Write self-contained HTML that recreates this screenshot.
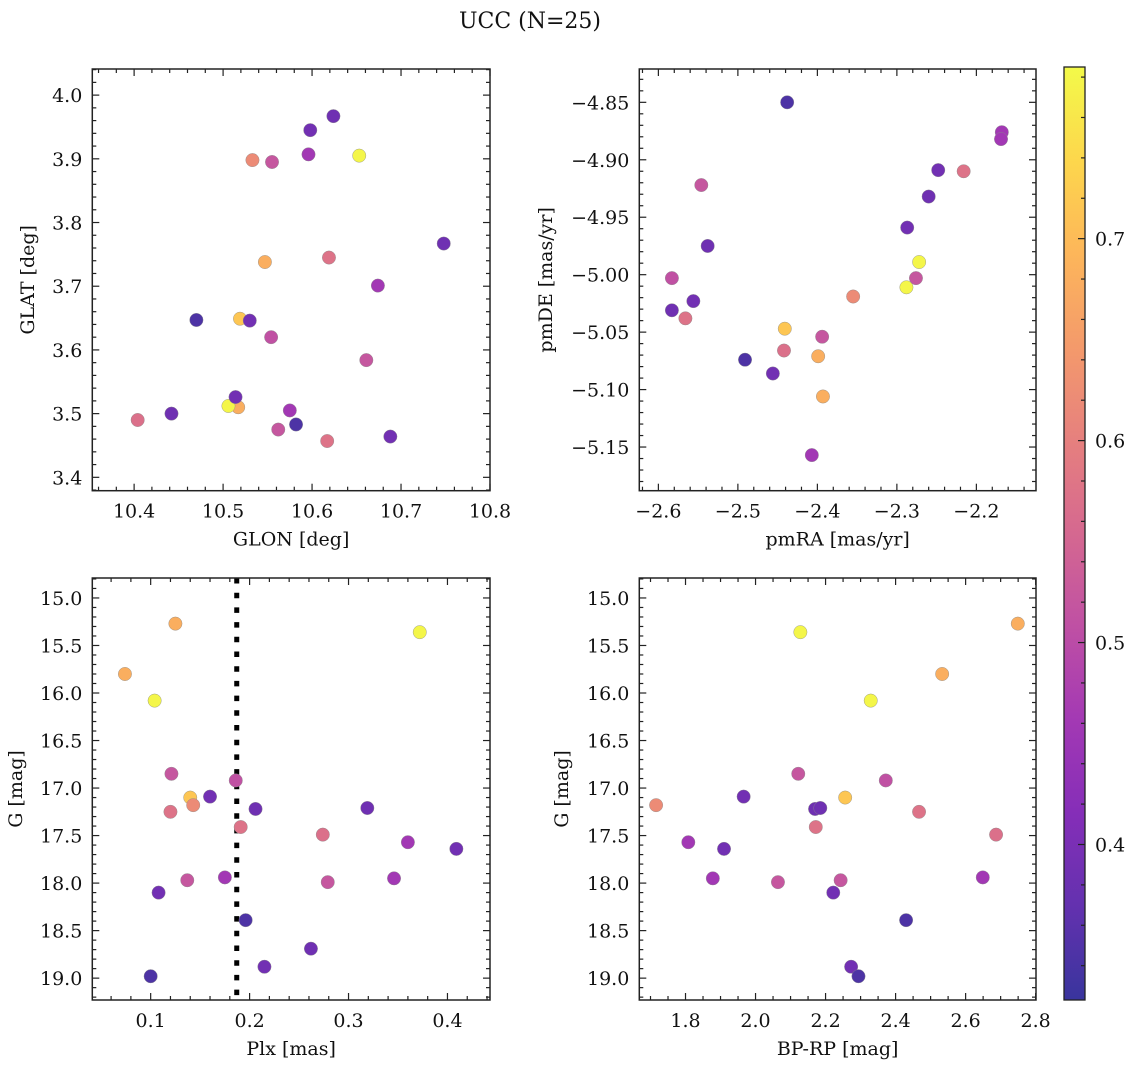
<!DOCTYPE html>
<html><head><meta charset="utf-8">
<style>
html,body{margin:0;padding:0;background:#fff;}
svg{display:block;font-family:"DejaVu Serif","Liberation Serif",serif;}
</style></head>
<body>
<svg id="fig" width="1136" height="1067" viewBox="0 0 1136 1067" xmlns="http://www.w3.org/2000/svg">
<text x="530" y="28" text-anchor="middle" font-size="22" fill="#111">UCC (N=25)</text>
</svg>
<script>
// ---- data (25 stars) ----
const glon = [10.547,10.653,10.517,10.506,10.555,10.554,10.519,10.598,10.533,10.619,10.624,10.748,10.617,10.404,10.596,10.530,10.562,10.674,10.661,10.575,10.514,10.470,10.442,10.688,10.582];
const glat = [3.738,3.905,3.510,3.512,3.895,3.620,3.649,3.945,3.898,3.745,3.967,3.767,3.457,3.490,3.907,3.646,3.475,3.701,3.584,3.505,3.526,3.647,3.500,3.464,3.483];
const pmra = [-2.399,-2.272,-2.393,-2.288,-2.546,-2.583,-2.441,-2.248,-2.355,-2.216,-2.260,-2.538,-2.566,-2.442,-2.168,-2.287,-2.394,-2.169,-2.276,-2.407,-2.556,-2.438,-2.583,-2.456,-2.491];
const pmde = [-5.071,-4.989,-5.106,-5.011,-4.922,-5.003,-5.047,-4.909,-5.019,-4.910,-4.932,-4.975,-5.038,-5.066,-4.876,-4.959,-5.054,-4.882,-5.003,-5.157,-5.023,-4.850,-5.031,-5.086,-5.074];
const plx = [0.125,0.372,0.074,0.104,0.121,0.186,0.140,0.160,0.143,0.120,0.206,0.319,0.191,0.274,0.360,0.409,0.137,0.175,0.279,0.346,0.108,0.196,0.262,0.215,0.100];
const gmag = [15.27,15.36,15.80,16.08,16.85,16.92,17.10,17.09,17.18,17.25,17.22,17.21,17.41,17.49,17.57,17.64,17.97,17.94,17.99,17.95,18.10,18.39,18.69,18.88,18.98];
const bprp = [2.749,2.128,2.533,2.329,2.122,2.372,2.256,1.966,1.716,2.467,2.170,2.185,2.172,2.687,1.808,1.910,2.243,2.649,2.064,1.878,2.222,2.430,null,2.273,2.294];
const cval = [0.68,0.78,0.68,0.78,0.52,0.51,0.715,0.39,0.62,0.575,0.385,0.385,0.575,0.57,0.46,0.39,0.52,0.46,0.52,0.46,0.39,0.345,0.385,0.39,0.345];
const plxLine = [0.187];
const cbarTicks = [0.4,0.5,0.6,0.7];
const cMin = 0.323, cMax = 0.785;

const NS="http://www.w3.org/2000/svg";
const svg=document.getElementById('fig');
function mk(tag,attrs,parent){const e=document.createElementNS(NS,tag);for(const k in attrs)e.setAttribute(k,attrs[k]);(parent||svg).appendChild(e);return e;}

const plasma=["#0d0887","#41049d","#6a00a8","#8f0da4","#b12a90","#cc4778","#e16462","#f2844b","#fca636","#fcce25","#f0f921"];
function hex(h){return [parseInt(h.substr(1,2),16),parseInt(h.substr(3,2),16),parseInt(h.substr(5,2),16)];}
function cmap(t){t=Math.max(0,Math.min(1,t));const f=t*10,i=Math.min(9,Math.floor(f)),r=f-i;const a=hex(plasma[i]),b=hex(plasma[i+1]);
 const c=a.map((v,k)=>v+(b[k]-v)*r);const al=0.82;return 'rgb('+c.map(v=>Math.round(v*al+255*(1-al))).join(',')+')';}
function colorOf(v){return cmap((v-cMin)/(cMax-cMin));}

function fmt(v,d){let s=v.toFixed(d);return s.replace('-','\u2212');}

function panel(cfg){
 const g=mk('g',{});
 
 
 const {x0,x1,y0,y1}=cfg;
 const sx=v=>x0+(v-cfg.xmin)/(cfg.xmax-cfg.xmin)*(x1-x0);
 const sy=cfg.yinv? v=>y0+(v-cfg.ymin)/(cfg.ymax-cfg.ymin)*(y1-y0) : v=>y1-(v-cfg.ymin)/(cfg.ymax-cfg.ymin)*(y1-y0);
 const eps=1e-9;
 const lo=Math.min(cfg.xmin,cfg.xmax),hi=Math.max(cfg.xmin,cfg.xmax);
 for(let v=Math.ceil(lo/cfg.xminor-eps)*cfg.xminor; v<=hi+eps; v+=cfg.xminor){
   const isMaj=Math.abs(v/cfg.xmajor-Math.round(v/cfg.xmajor))<1e-6; const L=isMaj?7:4; const px=sx(v);
   mk('line',{x1:px,x2:px,y1:y1,y2:y1-L,stroke:'#222','stroke-width':1.2},g);
   mk('line',{x1:px,x2:px,y1:y0,y2:y0+L,stroke:'#222','stroke-width':1.2},g);
 }
 const ylo=Math.min(cfg.ymin,cfg.ymax),yhi=Math.max(cfg.ymin,cfg.ymax);
 for(let v=Math.ceil(ylo/cfg.yminor-eps)*cfg.yminor; v<=yhi+eps; v+=cfg.yminor){
   const isMaj=Math.abs(v/cfg.ymajor-Math.round(v/cfg.ymajor))<1e-6; const L=isMaj?7:4; const py=sy(v);
   mk('line',{x1:x0,x2:x0+L,y1:py,y2:py,stroke:'#222','stroke-width':1.2},g);
   mk('line',{x1:x1,x2:x1-L,y1:py,y2:py,stroke:'#222','stroke-width':1.2},g);
 }
 cfg.xticks.forEach(v=>{const t=mk('text',{x:sx(v),y:y1+27,'text-anchor':'middle','font-size':19,fill:'#111'},g);t.textContent=fmt(v,cfg.xdec);
   
   });
 cfg.yticks.forEach(v=>{const t=mk('text',{x:x0-10,y:sy(v)+7,'text-anchor':'end','font-size':19,fill:'#111'},g);t.textContent=fmt(v,cfg.ydec);
   
   });
 const xl=mk('text',{x:(x0+x1)/2,y:y1+55,'text-anchor':'middle','font-size':19,fill:'#111'},g);xl.textContent=cfg.xlabel;
 
 
 const yl=mk('text',{x:0,y:0,'text-anchor':'middle','font-size':19,fill:'#111',transform:`translate(${cfg.ylx},${(y0+y1)/2}) rotate(-90)`},g);yl.textContent=cfg.ylabel;
 
 
 if(cfg.vline){cfg.vline.forEach(v=>{const l=mk('line',{x1:sx(v),x2:sx(v),y1:y0,y2:y1,stroke:'#000','stroke-width':5,'stroke-dasharray':'5.5 9.2'},g);
   
   });}
 for(let i=0;i<cfg.xs.length;i++){
   if(cfg.xs[i]==null||cfg.ys[i]==null)continue;
   const c=mk('circle',{cx:sx(cfg.xs[i]),cy:sy(cfg.ys[i]),r:6.7,fill:colorOf(cval[i]),stroke:'#8a8a8a','stroke-width':0.4},g);
   
   
 }
 mk('rect',{x:x0,y:y0,width:x1-x0,height:y1-y0,fill:'none',stroke:'#222','stroke-width':1.5},g);
}

panel({name:'panel-glon-glat',x0:92.3,x1:490,y0:69,y1:490.7,xmin:10.353,xmax:10.800,ymin:3.379,ymax:4.041,
 xmajor:0.1,xminor:0.02,ymajor:0.1,yminor:0.02,xticks:[10.4,10.5,10.6,10.7,10.8],yticks:[3.4,3.5,3.6,3.7,3.8,3.9,4.0],xdec:1,ydec:1,
 xlabel:'GLON [deg]',ylabel:'GLAT [deg]',ylx:34,xs:glon,ys:glat});
panel({name:'panel-pmra-pmde',x0:639.3,x1:1036,y0:69,y1:490.7,xmin:-2.624,xmax:-2.125,ymin:-5.188,ymax:-4.821,
 xmajor:0.1,xminor:0.02,ymajor:0.05,yminor:0.01,xticks:[-2.6,-2.5,-2.4,-2.3,-2.2],yticks:[-5.15,-5.10,-5.05,-5.00,-4.95,-4.90,-4.85],xdec:1,ydec:2,
 xlabel:'pmRA [mas/yr]',ylabel:'pmDE [mas/yr]',ylx:552,xs:pmra,ys:pmde});
panel({name:'panel-plx-g',x0:92.3,x1:490,y0:578,y1:1000,xmin:0.041,xmax:0.443,ymin:14.79,ymax:19.23,yinv:true,
 xmajor:0.1,xminor:0.02,ymajor:0.5,yminor:0.1,xticks:[0.1,0.2,0.3,0.4],yticks:[15.0,15.5,16.0,16.5,17.0,17.5,18.0,18.5,19.0],xdec:1,ydec:1,
 xlabel:'Plx [mas]',ylabel:'G [mag]',ylx:22,xs:plx,ys:gmag,vline:plxLine});
panel({name:'panel-bprp-g',x0:639.3,x1:1036,y0:578,y1:1000,xmin:1.668,xmax:2.801,ymin:14.79,ymax:19.23,yinv:true,
 xmajor:0.2,xminor:0.05,ymajor:0.5,yminor:0.1,xticks:[1.8,2.0,2.2,2.4,2.6,2.8],yticks:[15.0,15.5,16.0,16.5,17.0,17.5,18.0,18.5,19.0],xdec:1,ydec:1,
 xlabel:'BP-RP [mag]',ylabel:'G [mag]',ylx:568,xs:bprp,ys:gmag});

// colorbar
(function(){
 const cx0=1064,cx1=1085,cy0=67,cy1=1000;
 const defs=mk('defs',{});
 const lg=mk('linearGradient',{id:'cbg',x1:0,y1:1,x2:0,y2:0},defs);
 for(let k=0;k<=20;k++){mk('stop',{offset:(k/20),'stop-color':cmap(k/20)},lg);}
 const r=mk('rect',{x:cx0,y:cy0,width:cx1-cx0,height:cy1-cy0,fill:'url(#cbg)',stroke:'#222','stroke-width':1.3});
 
 
 const sy=v=>cy1-(v-cMin)/(cMax-cMin)*(cy1-cy0);
 for(let v=Math.ceil(cMin/0.02)*0.02; v<=cMax; v+=0.02){
   const maj=Math.abs(v*10-Math.round(v*10))<1e-6;
   mk('line',{x1:cx1,x2:cx1-(maj?7:4),y1:sy(v),y2:sy(v),stroke:'#222','stroke-width':1.2});
 }
 cbarTicks.forEach(v=>{const t=mk('text',{x:cx1+10,y:sy(v)+7,'font-size':19,fill:'#111'});t.textContent=v.toFixed(1);
   
   });
})();
</script>
</body></html>
